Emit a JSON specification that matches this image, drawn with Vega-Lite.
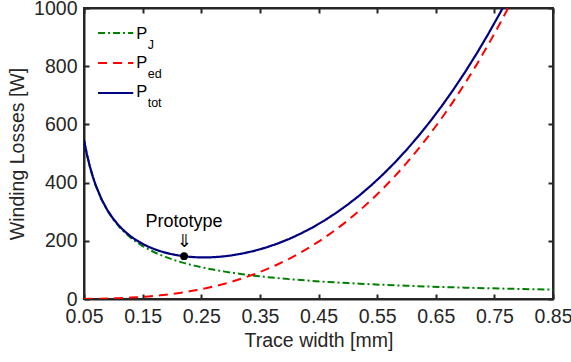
{
  "$schema": "https://vega.github.io/schema/vega-lite/v6.json",
  "width": 469,
  "height": 291,
  "autosize": "none",
  "padding": {"left": 84, "top": 8, "right": 18, "bottom": 63},
  "background": "white",
  "config": {
    "font": "Liberation Sans",
    "view": {"stroke": "#262626", "strokeWidth": 2},
    "axis": {
      "grid": false,
      "domainColor": "#262626",
      "domainWidth": 2,
      "tickColor": "#262626",
      "tickWidth": 2,
      "tickSize": -5,
      "labelColor": "#262626",
      "titleColor": "#262626",
      "labelFont": "Liberation Sans",
      "titleFont": "Liberation Sans",
      "labelFontSize": 19.5,
      "titleFontSize": 19.5,
      "titleFontWeight": "normal",
      "labelFlush": false,
      "labelOverlap": false
    }
  },
  "datasets": {
    "curves": [
      {"w": 0.05, "P": 546.0, "s": "J"}, {"w": 0.055, "P": 496.4, "s": "J"}, {"w": 0.06, "P": 455.0, "s": "J"}, {"w": 0.065, "P": 420.0, "s": "J"}, {"w": 0.07, "P": 390.0, "s": "J"}, {"w": 0.08, "P": 341.3, "s": "J"}, {"w": 0.09, "P": 303.3, "s": "J"}, {"w": 0.1, "P": 273.0, "s": "J"}, {"w": 0.11, "P": 248.2, "s": "J"}, {"w": 0.12, "P": 227.5, "s": "J"}, {"w": 0.13, "P": 210.0, "s": "J"}, {"w": 0.14, "P": 195.0, "s": "J"}, {"w": 0.15, "P": 182.0, "s": "J"}, {"w": 0.16, "P": 170.6, "s": "J"}, {"w": 0.17, "P": 160.6, "s": "J"}, {"w": 0.18, "P": 151.7, "s": "J"}, {"w": 0.19, "P": 143.7, "s": "J"}, {"w": 0.2, "P": 136.5, "s": "J"}, {"w": 0.21, "P": 130.0, "s": "J"}, {"w": 0.22, "P": 124.1, "s": "J"}, {"w": 0.23, "P": 118.7, "s": "J"}, {"w": 0.24, "P": 113.8, "s": "J"}, {"w": 0.25, "P": 109.2, "s": "J"}, {"w": 0.26, "P": 105.0, "s": "J"}, {"w": 0.27, "P": 101.1, "s": "J"}, {"w": 0.28, "P": 97.5, "s": "J"}, {"w": 0.29, "P": 94.1, "s": "J"}, {"w": 0.3, "P": 91.0, "s": "J"}, {"w": 0.32, "P": 85.3, "s": "J"}, {"w": 0.34, "P": 80.3, "s": "J"}, {"w": 0.36, "P": 75.8, "s": "J"}, {"w": 0.38, "P": 71.8, "s": "J"}, {"w": 0.4, "P": 68.3, "s": "J"}, {"w": 0.42, "P": 65.0, "s": "J"}, {"w": 0.44, "P": 62.0, "s": "J"}, {"w": 0.46, "P": 59.3, "s": "J"}, {"w": 0.48, "P": 56.9, "s": "J"}, {"w": 0.5, "P": 54.6, "s": "J"}, {"w": 0.52, "P": 52.5, "s": "J"}, {"w": 0.54, "P": 50.6, "s": "J"}, {"w": 0.56, "P": 48.8, "s": "J"}, {"w": 0.58, "P": 47.1, "s": "J"}, {"w": 0.6, "P": 45.5, "s": "J"}, {"w": 0.62, "P": 44.0, "s": "J"}, {"w": 0.64, "P": 42.7, "s": "J"}, {"w": 0.66, "P": 41.4, "s": "J"}, {"w": 0.68, "P": 40.1, "s": "J"}, {"w": 0.7, "P": 39.0, "s": "J"}, {"w": 0.72, "P": 37.9, "s": "J"}, {"w": 0.74, "P": 36.9, "s": "J"}, {"w": 0.76, "P": 35.9, "s": "J"}, {"w": 0.78, "P": 35.0, "s": "J"}, {"w": 0.8, "P": 34.1, "s": "J"}, {"w": 0.82, "P": 33.3, "s": "J"}, {"w": 0.84, "P": 32.5, "s": "J"}, {"w": 0.85, "P": 32.1, "s": "J"},
      {"w": 0.05, "P": 0.3, "s": "ed"}, {"w": 0.06, "P": 0.5, "s": "ed"}, {"w": 0.07, "P": 0.7, "s": "ed"}, {"w": 0.08, "P": 1.1, "s": "ed"}, {"w": 0.09, "P": 1.6, "s": "ed"}, {"w": 0.1, "P": 2.2, "s": "ed"}, {"w": 0.11, "P": 2.9, "s": "ed"}, {"w": 0.12, "P": 3.7, "s": "ed"}, {"w": 0.13, "P": 4.8, "s": "ed"}, {"w": 0.14, "P": 5.9, "s": "ed"}, {"w": 0.15, "P": 7.3, "s": "ed"}, {"w": 0.16, "P": 8.9, "s": "ed"}, {"w": 0.17, "P": 10.6, "s": "ed"}, {"w": 0.18, "P": 12.6, "s": "ed"}, {"w": 0.19, "P": 14.8, "s": "ed"}, {"w": 0.2, "P": 17.3, "s": "ed"}, {"w": 0.21, "P": 20.0, "s": "ed"}, {"w": 0.22, "P": 23.0, "s": "ed"}, {"w": 0.23, "P": 26.3, "s": "ed"}, {"w": 0.24, "P": 29.9, "s": "ed"}, {"w": 0.25, "P": 33.8, "s": "ed"}, {"w": 0.26, "P": 38.0, "s": "ed"}, {"w": 0.27, "P": 42.5, "s": "ed"}, {"w": 0.28, "P": 47.4, "s": "ed"}, {"w": 0.29, "P": 52.7, "s": "ed"}, {"w": 0.3, "P": 58.3, "s": "ed"}, {"w": 0.32, "P": 70.8, "s": "ed"}, {"w": 0.34, "P": 84.9, "s": "ed"}, {"w": 0.36, "P": 100.8, "s": "ed"}, {"w": 0.38, "P": 118.5, "s": "ed"}, {"w": 0.4, "P": 138.2, "s": "ed"}, {"w": 0.42, "P": 160.0, "s": "ed"}, {"w": 0.44, "P": 184.0, "s": "ed"}, {"w": 0.46, "P": 210.2, "s": "ed"}, {"w": 0.48, "P": 238.9, "s": "ed"}, {"w": 0.5, "P": 270.0, "s": "ed"}, {"w": 0.52, "P": 303.7, "s": "ed"}, {"w": 0.54, "P": 340.1, "s": "ed"}, {"w": 0.56, "P": 379.3, "s": "ed"}, {"w": 0.58, "P": 421.4, "s": "ed"}, {"w": 0.6, "P": 466.6, "s": "ed"}, {"w": 0.62, "P": 514.8, "s": "ed"}, {"w": 0.64, "P": 566.2, "s": "ed"}, {"w": 0.66, "P": 621.0, "s": "ed"}, {"w": 0.68, "P": 679.2, "s": "ed"}, {"w": 0.7, "P": 740.9, "s": "ed"}, {"w": 0.72, "P": 806.2, "s": "ed"}, {"w": 0.74, "P": 875.3, "s": "ed"}, {"w": 0.76, "P": 948.2, "s": "ed"}, {"w": 0.78, "P": 1025.0, "s": "ed"}, {"w": 0.8, "P": 1105.9, "s": "ed"},
      {"w": 0.05, "P": 546.3, "s": "tot"}, {"w": 0.055, "P": 496.7, "s": "tot"}, {"w": 0.06, "P": 455.5, "s": "tot"}, {"w": 0.065, "P": 420.6, "s": "tot"}, {"w": 0.07, "P": 390.7, "s": "tot"}, {"w": 0.08, "P": 342.4, "s": "tot"}, {"w": 0.09, "P": 304.9, "s": "tot"}, {"w": 0.1, "P": 275.2, "s": "tot"}, {"w": 0.11, "P": 251.1, "s": "tot"}, {"w": 0.12, "P": 231.2, "s": "tot"}, {"w": 0.13, "P": 214.7, "s": "tot"}, {"w": 0.14, "P": 200.9, "s": "tot"}, {"w": 0.15, "P": 189.3, "s": "tot"}, {"w": 0.16, "P": 179.5, "s": "tot"}, {"w": 0.17, "P": 171.2, "s": "tot"}, {"w": 0.18, "P": 164.3, "s": "tot"}, {"w": 0.19, "P": 158.5, "s": "tot"}, {"w": 0.2, "P": 153.8, "s": "tot"}, {"w": 0.21, "P": 150.0, "s": "tot"}, {"w": 0.22, "P": 147.1, "s": "tot"}, {"w": 0.23, "P": 145.0, "s": "tot"}, {"w": 0.24, "P": 143.6, "s": "tot"}, {"w": 0.25, "P": 143.0, "s": "tot"}, {"w": 0.26, "P": 143.0, "s": "tot"}, {"w": 0.27, "P": 143.6, "s": "tot"}, {"w": 0.28, "P": 144.9, "s": "tot"}, {"w": 0.29, "P": 146.8, "s": "tot"}, {"w": 0.3, "P": 149.3, "s": "tot"}, {"w": 0.32, "P": 156.1, "s": "tot"}, {"w": 0.34, "P": 165.2, "s": "tot"}, {"w": 0.36, "P": 176.6, "s": "tot"}, {"w": 0.38, "P": 190.3, "s": "tot"}, {"w": 0.4, "P": 206.5, "s": "tot"}, {"w": 0.42, "P": 225.0, "s": "tot"}, {"w": 0.44, "P": 246.0, "s": "tot"}, {"w": 0.46, "P": 269.5, "s": "tot"}, {"w": 0.48, "P": 295.8, "s": "tot"}, {"w": 0.5, "P": 324.6, "s": "tot"}, {"w": 0.52, "P": 356.2, "s": "tot"}, {"w": 0.54, "P": 390.7, "s": "tot"}, {"w": 0.56, "P": 428.1, "s": "tot"}, {"w": 0.58, "P": 468.5, "s": "tot"}, {"w": 0.6, "P": 512.1, "s": "tot"}, {"w": 0.62, "P": 558.8, "s": "tot"}, {"w": 0.64, "P": 608.9, "s": "tot"}, {"w": 0.66, "P": 662.4, "s": "tot"}, {"w": 0.68, "P": 719.3, "s": "tot"}, {"w": 0.7, "P": 779.9, "s": "tot"}, {"w": 0.72, "P": 844.1, "s": "tot"}, {"w": 0.74, "P": 912.2, "s": "tot"}, {"w": 0.76, "P": 984.1, "s": "tot"}, {"w": 0.78, "P": 1060.0, "s": "tot"}, {"w": 0.8, "P": 1140.0, "s": "tot"}
    ],
    "legend": [
      {"s": "J", "x1": 0.074, "x2": 0.134, "y": 914, "tx": 0.139, "ty": 894, "sub": "J"},
      {"s": "ed", "x1": 0.074, "x2": 0.134, "y": 811, "tx": 0.139, "ty": 794, "sub": "ed"},
      {"s": "tot", "x1": 0.074, "x2": 0.134, "y": 708, "tx": 0.139, "ty": 693, "sub": "tot"}
    ],
    "proto": [
      {"w": 0.2207, "P": 147, "label": "Prototype", "ly": 247, "ay": 196, "arrow": "⇓"}
    ]
  },
  "layer": [
    {
      "data": {"name": "curves"},
      "transform": [{"filter": "datum.s === 'J'"}],
      "mark": {"type": "line", "clip": true, "strokeWidth": 2},
      "encoding": {
        "x": {"field": "w", "type": "quantitative", "scale": {"domain": [0.05, 0.85], "nice": false, "zero": false},
              "axis": {"title": "Trace width [mm]", "values": [0.05, 0.15, 0.25, 0.35, 0.45, 0.55, 0.65, 0.75, 0.85], "format": ".2f", "labelPadding": 13, "titlePadding": 6}},
        "y": {"field": "P", "type": "quantitative", "scale": {"domain": [0, 1000], "nice": false},
              "axis": {"title": "Winding Losses [W]", "values": [0, 200, 400, 600, 800, 1000], "format": "d", "labelPadding": 12, "titlePadding": 6}},
        "color": {"field": "s", "type": "nominal", "scale": {"domain": ["J", "ed", "tot"], "range": ["#008000", "#ff0000", "#000080"]}, "legend": null},
        "strokeDash": {"field": "s", "type": "nominal", "scale": {"domain": ["J", "ed", "tot"], "range": [[7, 3, 2, 3], [9, 6], [1, 0]]}, "legend": null}
      }
    },
    {
      "data": {"name": "curves"},
      "transform": [{"filter": "datum.s === 'ed'"}],
      "mark": {"type": "line", "clip": true, "strokeWidth": 2},
      "encoding": {
        "x": {"field": "w", "type": "quantitative", "axis": {"orient": "top", "labels": false, "title": null, "values": [0.05, 0.15, 0.25, 0.35, 0.45, 0.55, 0.65, 0.75, 0.85]}},
        "y": {"field": "P", "type": "quantitative", "axis": {"orient": "right", "labels": false, "title": null, "values": [0, 200, 400, 600, 800, 1000]}},
        "color": {"field": "s", "type": "nominal", "legend": null},
        "strokeDash": {"field": "s", "type": "nominal", "legend": null}
      }
    },
    {
      "data": {"name": "curves"},
      "transform": [{"filter": "datum.s === 'tot'"}],
      "mark": {"type": "line", "clip": true, "strokeWidth": 2.2},
      "encoding": {
        "x": {"field": "w", "type": "quantitative", "axis": null},
        "y": {"field": "P", "type": "quantitative", "axis": null},
        "color": {"field": "s", "type": "nominal", "legend": null},
        "strokeDash": {"field": "s", "type": "nominal", "legend": null}
      }
    },
    {
      "data": {"name": "legend"},
      "mark": {"type": "rule", "strokeWidth": 2},
      "encoding": {
        "x": {"field": "x1", "type": "quantitative", "axis": null},
        "x2": {"field": "x2"},
        "y": {"field": "y", "type": "quantitative", "axis": null},
        "color": {"field": "s", "type": "nominal", "legend": null},
        "strokeDash": {"field": "s", "type": "nominal", "legend": null}
      }
    },
    {
      "data": {"name": "legend"},
      "mark": {"type": "text", "align": "left", "baseline": "alphabetic", "fontSize": 16.5, "color": "#000000"},
      "encoding": {
        "x": {"field": "tx", "type": "quantitative", "axis": null},
        "y": {"field": "ty", "type": "quantitative", "axis": null},
        "text": {"value": "P"}
      }
    },
    {
      "data": {"name": "legend"},
      "mark": {"type": "text", "align": "left", "baseline": "alphabetic", "fontSize": 12.5, "dx": 11.5, "dy": 10, "color": "#000000"},
      "encoding": {
        "x": {"field": "tx", "type": "quantitative", "axis": null},
        "y": {"field": "ty", "type": "quantitative", "axis": null},
        "text": {"field": "sub"}
      }
    },
    {
      "data": {"name": "proto"},
      "mark": {"type": "point", "filled": true, "color": "#000000", "size": 60, "opacity": 1},
      "encoding": {
        "x": {"field": "w", "type": "quantitative", "axis": null},
        "y": {"field": "P", "type": "quantitative", "axis": null}
      }
    },
    {
      "data": {"name": "proto"},
      "mark": {"type": "text", "align": "center", "baseline": "alphabetic", "fontSize": 18, "color": "#000000"},
      "encoding": {
        "x": {"field": "w", "type": "quantitative", "axis": null},
        "y": {"field": "ly", "type": "quantitative", "axis": null},
        "text": {"field": "label"}
      }
    },
    {
      "data": {"name": "proto"},
      "mark": {"type": "text", "align": "center", "baseline": "middle", "fontSize": 18, "font": "DejaVu Sans", "color": "#000000"},
      "encoding": {
        "x": {"field": "w", "type": "quantitative", "axis": null},
        "y": {"field": "ay", "type": "quantitative", "axis": null},
        "text": {"field": "arrow"}
      }
    }
  ],
  "resolve": {"axis": {"x": "independent", "y": "independent"}}
}
